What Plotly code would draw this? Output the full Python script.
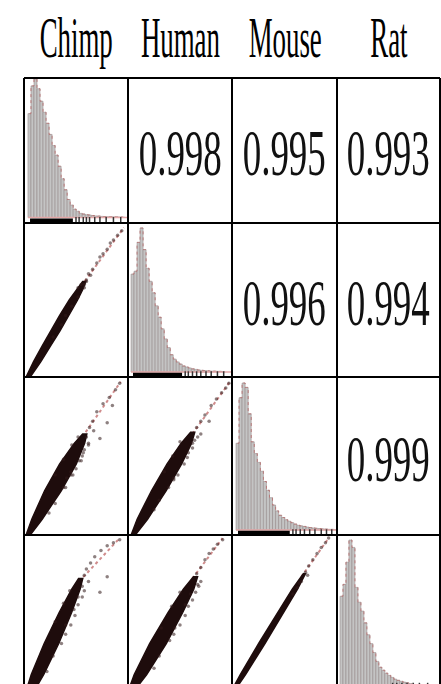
import plotly.graph_objects as go

# ---------------- data ----------------
species = ["Chimp", "Human", "Mouse", "Rat"]

# pairwise correlations (upper triangle): row index, column index, value
corr_row = [0, 0, 0, 1, 1, 2]
corr_col = [1, 2, 3, 2, 3, 3]
corr_values = [0.998, 0.995, 0.993, 0.996, 0.994, 0.999]

# histograms (diagonal): first bin left edge and counts, common bin width
bin_width = 2.9
chimp_bin_start = 3.8
chimp_counts = [900, 1140, 1200, 1116, 1008, 912, 816, 720, 624, 540, 444, 336, 240, 156,
                108, 72, 54, 36, 30, 24, 22, 17, 14, 12, 10, 8, 7, 6, 6, 5, 5, 4]
human_bin_start = 2.9
human_counts = [816, 840, 1080, 1200, 1020, 864, 756, 660, 552, 456, 360, 276, 204, 144,
                108, 84, 66, 50, 42, 34, 26, 22, 17, 14, 12, 10, 8, 7, 6, 5, 4]
mouse_bin_start = 3.8
mouse_counts = [708, 1080, 1200, 1164, 948, 720, 624, 552, 480, 396, 324, 264, 204, 156,
                120, 102, 84, 72, 60, 48, 38, 34, 29, 24, 20, 17, 14, 12, 10, 7, 6, 5, 4]
rat_bin_start = 2.9
rat_counts = [744, 840, 1020, 1200, 1140, 816, 696, 624, 528, 432, 360, 288, 216, 168,
              144, 120, 102, 86, 72, 62, 54, 48, 42, 36, 30, 24, 18, 14, 12, 10, 7]

# rug marks: dense segment (start, end) and sparse single values
chimp_rug_dense = [5.8, 47.0]
chimp_rug_sparse = [50, 53, 57, 60, 63, 68, 73, 79, 86, 93]
human_rug_dense = [4.8, 52.0]
human_rug_sparse = [55, 58, 62, 66, 70, 75, 80, 86, 92]
mouse_rug_dense = [5.7, 55.0]
mouse_rug_sparse = [58, 61, 65, 69, 74, 79, 85, 90, 95]
rat_rug_dense = [4.0, 50.0]
rat_rug_sparse = [54, 58, 63, 68, 74, 80, 88]

# scatter panels (lower triangle): dense core outline, sparse outlying points, trend end points
# Human vs Chimp
hc_core_x = [2, 9.2, 17.4, 25.6, 34.3, 43.5, 50.6, 56.4, 59.4, 56.6, 51.5, 43.3, 34.6, 25.4, 16.2, 6]
hc_core_y = [0, 10, 20, 30, 40, 50, 57, 62, 62, 57, 50, 40, 30, 20, 10, 0]
hc_pts_x = [60, 62, 66, 64, 70, 73, 76, 80, 83, 86, 90, 94, 55, 58, 52, 58, 60, 46, 52, 40, 36, 28]
hc_pts_y = [63, 67, 70, 66, 74, 78, 80, 83, 87, 89, 92, 95, 60, 58, 58, 60, 62, 46, 52, 40, 34, 26]
hc_trend_x = [55, 96]
hc_trend_y = [59, 97]
# Mouse vs Chimp
mc_core_x = [2, 7.5, 19.8, 34.3, 48.3, 56.4, 60.4, 58.3, 50.3, 35.8, 17.5, 6]
mc_core_y = [0, 10, 28, 45, 58, 64, 64, 58, 45, 28, 10, 0]
mc_pts_x = [60, 63, 66, 73, 80, 70, 76, 82, 85, 88, 92, 62, 57, 67, 55, 40, 45,
            38, 41, 45, 50, 53, 56, 58, 62, 30, 24, 47, 30, 38, 46, 52]
mc_pts_y = [62, 68, 72, 61, 71, 78, 83, 87, 82, 92, 96, 57, 52, 66, 47, 30, 38,
            30, 36, 40, 42, 47, 50, 54, 58, 20, 14, 38, 38, 48, 57, 62]
mc_trend_x = [56, 93]
mc_trend_y = [62, 97]
# Mouse vs Human
mh_core_x = [3, 8.8, 22.6, 37.6, 51, 60.2, 64.2, 61, 51.6, 36.6, 18.8, 7]
mh_core_y = [0, 10, 28, 45, 58, 65, 65, 58, 45, 28, 10, 0]
mh_pts_x = [66, 70, 74, 70, 78, 80, 85, 90, 94, 97, 62, 58, 44,
            39, 44, 48, 54, 57, 62, 64, 67, 30, 25, 35, 43, 50]
mh_pts_y = [68, 72, 76, 64, 72, 82, 86, 90, 93, 96, 58, 52, 36,
            30, 35, 38, 45, 49, 55, 60, 62, 22, 16, 40, 50, 59]
mh_trend_x = [62, 98]
mh_trend_y = [64, 97]
# Rat vs Chimp
rc_core_x = [2.3, 7, 19.4, 33.8, 45.9, 52.5, 56.5, 53.9, 45.8, 33.4, 19, 10.3]
rc_core_y = [0, 10, 30, 50, 65, 72, 72, 65, 50, 30, 10, 0]
rc_pts_x = [58, 60, 64, 73, 80, 68, 74, 80, 86, 92, 52, 48, 56, 62, 40,
            36, 40, 45, 49, 52, 56, 58, 28, 22, 30, 38, 44]
rc_pts_y = [74, 78, 82, 63, 73, 86, 90, 93, 95, 97, 60, 52, 67, 70, 42,
            30, 36, 42, 48, 55, 60, 64, 22, 12, 44, 56, 64]
rc_trend_x = [53, 92]
rc_trend_y = [70, 98]
# Rat vs Human
rh_core_x = [0.6, 6, 20.8, 38.6, 53.2, 62.9, 66.9, 63.2, 52.6, 36.8, 18, 6.6]
rh_core_y = [0, 10, 30, 50, 65, 73, 73, 65, 50, 30, 10, 0]
rh_pts_x = [66, 70, 74, 78, 82, 86, 91, 70, 60, 55, 67, 45,
            40, 44, 50, 55, 58, 62, 65, 68, 30, 25, 32, 42, 50]
rh_pts_y = [75, 79, 84, 88, 91, 94, 97, 70, 62, 55, 68, 40,
            32, 36, 42, 48, 54, 58, 63, 67, 22, 14, 40, 54, 63]
rh_trend_x = [62, 91]
rh_trend_y = [72, 98]
# Rat vs Mouse
rm_core_x = [0, 7.9, 25.4, 43.4, 57.4, 67.9, 69.9, 62.4, 49.4, 31.4, 12.9, 2.9]
rm_core_y = [0, 10, 30, 50, 65, 75, 75, 65, 50, 30, 10, 0]
rm_pts_x = [70, 73, 77, 81, 85, 89, 92, 66, 72, 58, 62, 64]
rm_pts_y = [76, 80, 84, 88, 92, 95, 98, 70, 74, 62, 66, 69]
rm_trend_x = [66, 92]
rm_trend_y = [73, 98]

hist_data = [
    (chimp_bin_start, chimp_counts, chimp_rug_dense, chimp_rug_sparse),
    (human_bin_start, human_counts, human_rug_dense, human_rug_sparse),
    (mouse_bin_start, mouse_counts, mouse_rug_dense, mouse_rug_sparse),
    (rat_bin_start, rat_counts, rat_rug_dense, rat_rug_sparse),
]
scatter_data = {
    (1, 0): (hc_core_x, hc_core_y, hc_pts_x, hc_pts_y, hc_trend_x, hc_trend_y),
    (2, 0): (mc_core_x, mc_core_y, mc_pts_x, mc_pts_y, mc_trend_x, mc_trend_y),
    (2, 1): (mh_core_x, mh_core_y, mh_pts_x, mh_pts_y, mh_trend_x, mh_trend_y),
    (3, 0): (rc_core_x, rc_core_y, rc_pts_x, rc_pts_y, rc_trend_x, rc_trend_y),
    (3, 1): (rh_core_x, rh_core_y, rh_pts_x, rh_pts_y, rh_trend_x, rh_trend_y),
    (3, 2): (rm_core_x, rm_core_y, rm_pts_x, rm_pts_y, rm_trend_x, rm_trend_y),
}

# ---------------- layout geometry (pixels) ----------------
W, H = 441, 684
col_px = [24, 128, 232, 337, 440]
row_px = [78, 223, 377, 535, 684]
row4_full_bottom = 690          # last row continues below the visible area
hist_peak_px = [79, 228, 383, 540]
hist_base_px = [217.5, 372, 530, 688]

SERIF = "Liberation Serif, Times New Roman, serif"
CORE = "#1e0c0c"
PINK = "#d08c8c"

fig = go.Figure()
layout = {}


def ax_names(r, c):
    n = r * 4 + c + 1
    return ("x" if n == 1 else f"x{n}"), ("y" if n == 1 else f"y{n}"), n


for r in range(4):
    for c in range(4):
        xa, ya, n = ax_names(r, c)
        xkey = "xaxis" if n == 1 else f"xaxis{n}"
        ykey = "yaxis" if n == 1 else f"yaxis{n}"
        xdom = [col_px[c] / W, col_px[c + 1] / W]
        ydom = [1 - row_px[r + 1] / H, 1 - row_px[r] / H]
        layout[xkey] = dict(domain=xdom, range=[0, 100], visible=False, fixedrange=True, anchor=ya)
        if r == c:
            start, counts, rug_dense, rug_sparse = hist_data[r]
            M = max(counts)
            s = (hist_base_px[r] - hist_peak_px[r]) / M
            ymin = -(row_px[r + 1] - hist_base_px[r]) / s
            ymax = (hist_base_px[r] - row_px[r]) / s
            layout[ykey] = dict(domain=ydom, range=[ymin, ymax], visible=False, fixedrange=True, anchor=xa)
            centers = [start + bin_width * (k + 0.5) for k in range(len(counts))]
            fig.add_trace(go.Bar(x=centers, y=counts, width=bin_width, xaxis=xa, yaxis=ya,
                                 marker=dict(color="#c4c4c4", line=dict(color="#8f8282", width=0.5)),
                                 showlegend=False))
            fig.add_trace(go.Scatter(x=centers, y=counts, mode="lines", xaxis=xa, yaxis=ya,
                                     line=dict(color="#b77a7a", width=1, dash="dot", shape="hvh"),
                                     showlegend=False))
            fig.add_trace(go.Scatter(x=[start, 100], y=[0, 0], mode="lines", xaxis=xa, yaxis=ya,
                                     line=dict(color="#e4a8a8", width=1.5), showlegend=False))
            rug_y = -((row_px[r + 1] - hist_base_px[r]) / 2 + 0.3) / s
            fig.add_trace(go.Scatter(x=rug_dense, y=[rug_y, rug_y], mode="lines", xaxis=xa, yaxis=ya,
                                     line=dict(color="black", width=4), showlegend=False))
            fig.add_trace(go.Scatter(x=rug_sparse, y=[rug_y] * len(rug_sparse), mode="markers",
                                     xaxis=xa, yaxis=ya,
                                     marker=dict(symbol="line-ns", size=5,
                                                 line=dict(color="#333333", width=1.5)),
                                     showlegend=False))
        else:
            if r == 3:
                full_h = row4_full_bottom - row_px[3]
                ylo = (row4_full_bottom - row_px[4]) / full_h * 100
            else:
                ylo = 0
            layout[ykey] = dict(domain=ydom, range=[ylo, 100], visible=False, fixedrange=True, anchor=xa)
            if (r, c) in scatter_data:
                cx, cy, px, py, tx, ty = scatter_data[(r, c)]
                fig.add_trace(go.Scatter(x=tx, y=ty, mode="lines", xaxis=xa, yaxis=ya,
                                         line=dict(color=PINK, width=2, dash="dot"), showlegend=False))
                fig.add_trace(go.Scatter(x=cx, y=cy, mode="lines", fill="toself", xaxis=xa, yaxis=ya,
                                         fillcolor=CORE, line=dict(color=CORE, width=1.5),
                                         showlegend=False))
                fig.add_trace(go.Scatter(x=px, y=py, mode="markers", xaxis=xa, yaxis=ya,
                                         marker=dict(color="rgba(50,25,25,0.55)", size=3.5),
                                         showlegend=False))

# borders
shapes = []
for xp in col_px:
    shapes.append(dict(type="line", xref="paper", yref="paper", x0=xp / W, x1=xp / W,
                       y0=1 - row_px[0] / H, y1=0, line=dict(color="black", width=2)))
for yp in row_px[:4]:
    shapes.append(dict(type="line", xref="paper", yref="paper", x0=col_px[0] / W, x1=col_px[4] / W,
                       y0=1 - yp / H, y1=1 - yp / H, line=dict(color="black", width=2)))

annotations = []
for c, name in enumerate(species):
    cx = (col_px[c] + col_px[c + 1]) / 2
    annotations.append(dict(text=name, x=cx / W, y=1 - 38 / H, xref="paper", yref="paper",
                            showarrow=False, xanchor="center", yanchor="middle",
                            font=dict(family=SERIF, size=56, color="black")))
for r, c, v in zip(corr_row, corr_col, corr_values):
    cx = (col_px[c] + col_px[c + 1]) / 2
    cy = (row_px[r] + row_px[r + 1]) / 2
    annotations.append(dict(text=f"{v:.3f}", x=cx / W, y=1 - (cy + 2) / H, xref="paper", yref="paper",
                            showarrow=False, xanchor="center", yanchor="middle",
                            font=dict(family=SERIF, size=66, color="#111111")))

fig.update_layout(width=W, height=H, margin=dict(l=0, r=0, t=0, b=0),
                  paper_bgcolor="white", plot_bgcolor="white", showlegend=False,
                  bargap=0, shapes=shapes, annotations=annotations, **layout)

post = """
var gd = document.getElementById('{plot_id}');
function squeeze() {
  var ts = gd.querySelectorAll('text.annotation-text');
  ts.forEach(function (t) {
    var s = (t.textContent.indexOf('.') >= 0) ? 0.56 : 0.48;
    t.style.transformBox = 'fill-box';
    t.style.transformOrigin = 'center';
    t.style.transform = 'scaleX(' + s + ')';
  });
}
squeeze();
if (gd.on) { gd.on('plotly_afterplot', squeeze); }
setTimeout(squeeze, 30);
"""

fig.write_html("out.html", post_script=post, config={"displayModeBar": False, "staticPlot": True})
